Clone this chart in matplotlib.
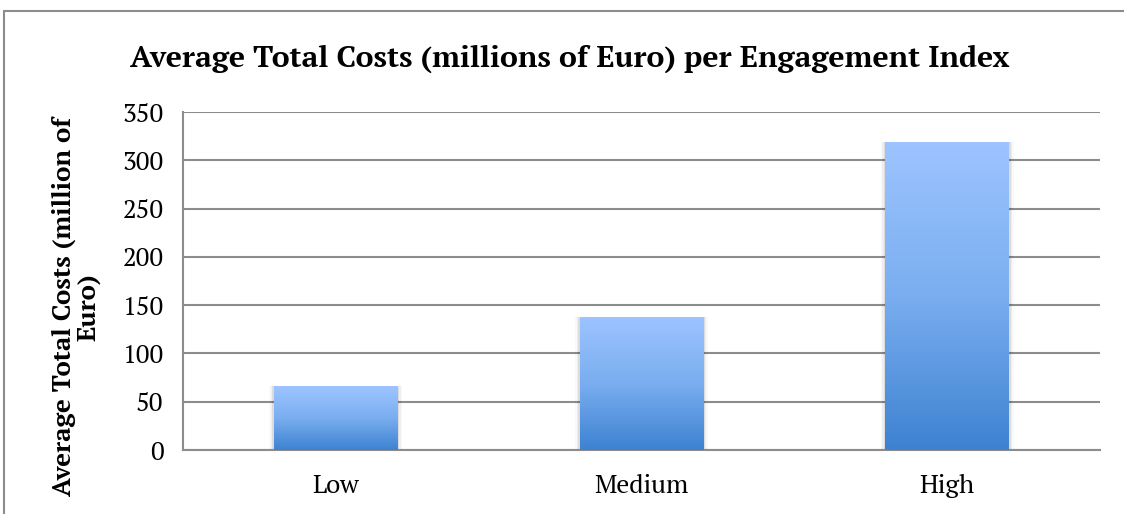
import matplotlib
matplotlib.use("Agg")
import matplotlib.pyplot as plt
import numpy as np
from matplotlib.patches import Rectangle
from matplotlib.colors import LinearSegmentedColormap

categories = ["Low", "Medium", "High"]
values = [66, 138, 319]
yticks = [0, 50, 100, 150, 200, 250, 300, 350]

title = "Average Total Costs (millions of Euro) per Engagement Index"
ylabel = "Average Total Costs (million of\nEuro)"

W, H = 1124, 514
plt.rcParams['font.family'] = ['PT Serif', 'DejaVu Serif']
fig = plt.figure(figsize=(W / 100, H / 100), dpi=100)

# outer frame
fig.patches.append(Rectangle((4 / W, -0.05), 1.2, 1 - 11 / H + 0.05, transform=fig.transFigure,
                             fill=False, edgecolor='#8c8c8c', linewidth=1.5))

left, right, top, bottom = 183, 1100, 112, 450
ax = fig.add_axes([left / W, 1 - bottom / H, (right - left) / W, (bottom - top) / H])

x = np.arange(len(categories))
ax.set_yticks(yticks)
ax.set_yticklabels([str(t) for t in yticks], fontsize=18.5)
ax.set_xticks(x)
ax.set_xticklabels(categories, fontsize=18.5)
ax.tick_params(length=0)
ax.tick_params(axis='y', pad=14)
ax.tick_params(axis='x', pad=17)
ax.yaxis.grid(True, color='#8c8c8c', linewidth=1.5)
ax.set_axisbelow(True)
for s in ['top', 'right']:
    ax.spines[s].set_visible(False)
for s in ['left', 'bottom']:
    ax.spines[s].set_color('#8c8c8c')
    ax.spines[s].set_linewidth(1.5)

cmap = LinearSegmentedColormap.from_list('g', ['#3d82d1', '#7aaef0', '#9dc4ff'])
grad = np.linspace(0, 1, 256).reshape(-1, 1)
bars = ax.bar(x, values, width=0.405, color='none', edgecolor='none', zorder=3)
for b in bars:
    bx, by = b.get_x(), b.get_y()
    bw, bh = b.get_width(), b.get_height()
    # soft shadow at the sides
    for k, a in enumerate([0.07, 0.045, 0.025]):
        d = (k + 1) * 0.005
        sh = Rectangle((bx - d, by), bw + 2 * d, bh, facecolor='black', alpha=a,
                       edgecolor='none', zorder=2.5)
        ax.add_patch(sh)
    im = ax.imshow(grad, extent=[bx, bx + bw, by, by + bh], origin='lower', cmap=cmap,
                   aspect='auto', zorder=3)
    im.set_clip_path(b)
ax.set_xlim(-0.5, len(categories) - 0.5)
ax.set_ylim(0, 350)

fig.text(570 / W, 1 - 59 / H, title, ha='center', va='center', fontsize=21.8, fontweight='bold')
fig.text(76 / W, 1 - 307 / H, ylabel, ha='center', va='center', rotation=90,
         fontsize=18.5, fontweight='bold', linespacing=1.0)

fig.savefig("out.png", dpi=100)
